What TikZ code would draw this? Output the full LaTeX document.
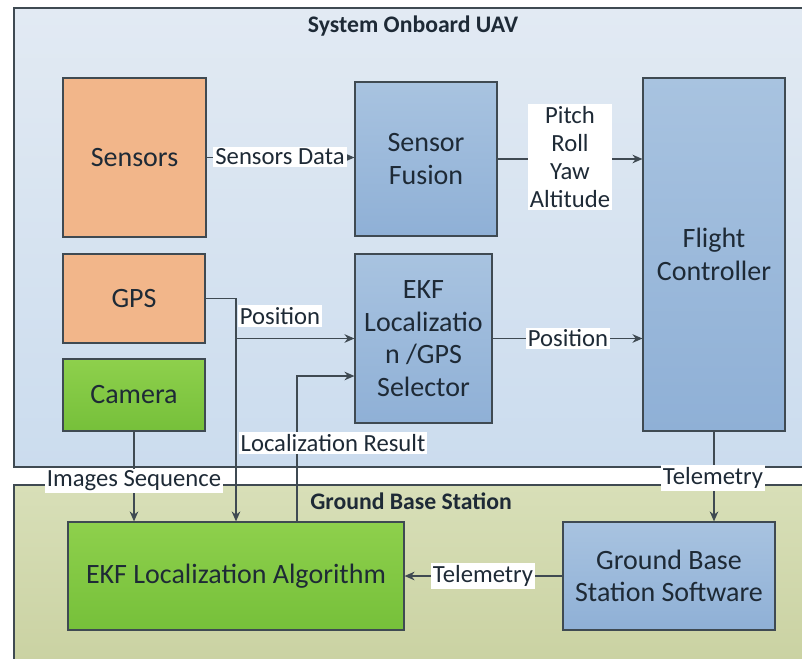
\documentclass[tikz,border=0pt]{standalone}
\usepackage{fontspec}
\setmainfont{Carlito}
\usetikzlibrary{arrows.meta}
\definecolor{uavtop}{HTML}{E2EAF3}
\definecolor{uavbot}{HTML}{CBDCEE}
\definecolor{gndtop}{HTML}{D8DFB8}
\definecolor{gndbot}{HTML}{C8D09F}
\definecolor{orng}{HTML}{F2B68A}
\definecolor{bluetop}{HTML}{A8C3E0}
\definecolor{bluebot}{HTML}{8FB0D6}
\definecolor{grntop}{HTML}{8ED04C}
\definecolor{grnbot}{HTML}{76C03A}
\definecolor{edge}{HTML}{3F4A52}
\definecolor{txt}{HTML}{1E2A36}
\begin{document}
\begin{tikzpicture}[x=0.75pt,y=-0.75pt,
  blk/.style={draw=edge, line width=0.9pt, align=center, inner sep=0pt,
    font=\fontsize{21}{24.5}\selectfont, text=txt},
  orangeblk/.style={blk, fill=orng},
  blueblk/.style={blk, top color=bluetop, bottom color=bluebot},
  greenblk/.style={blk, top color=grntop, bottom color=grnbot},
  lbl/.style={fill=white, inner sep=1.5pt, align=center,
    font=\fontsize{18.5}{21}\selectfont, text=txt},
  ttl/.style={font=\fontsize{17.8}{20}\selectfont\bfseries, text=txt},
  conn/.style={draw=edge, line width=0.9pt},
  arr/.style={conn, -{Stealth[length=7.5pt,width=6.5pt]}}
]
\useasboundingbox (0,0) rectangle (802,659);
\clip (0,0) rectangle (802,659);
\fill[white] (0,0) rectangle (802,659);
% regions
\path[draw=edge, line width=1pt, top color=uavtop, bottom color=uavbot]
  (14,8) rectangle (830,467);
\path[draw=edge, line width=1pt, top color=gndtop, bottom color=gndbot]
  (14,485) rectangle (830,690);
\node[ttl] (t1) at (413,26) {System Onboard UAV};
\node[ttl] (t2) at (411,501) {Ground Base Station};
% blocks
\node[orangeblk, minimum width=107.25pt, minimum height=119.25pt] (sensors) at (134.5,157.5) {Sensors};
\node[blueblk, minimum width=106.5pt, minimum height=115.5pt] (sf) at (426,159) {Sensor\\Fusion};
\node[blueblk, minimum width=106.5pt, minimum height=264.75pt] (fc) at (714,254.5) {Flight\\Controller};
\node[orangeblk, minimum width=106.5pt, minimum height=66.75pt] (gps) at (134,298.5) {GPS};
\node[greenblk, minimum width=106.5pt, minimum height=54pt] (camera) at (134,395) {Camera};
\node[blueblk, minimum width=102.75pt, minimum height=126.75pt] (ekfsel) at (423.5,338.5) {EKF\\Localizatio\\n /GPS\\Selector};
\node[greenblk, minimum width=252pt, minimum height=81pt] (algo) at (236,576) {EKF Localization Algorithm};
\node[blueblk, minimum width=159pt, minimum height=81pt] (gbs) at (669,576) {Ground Base\\Station Software};
% connectors
\draw[arr] (sensors.east) -- (sensors.east -| sf.west);
\draw[arr] (sf.east) -- (sf.east -| fc.west);
\coordinate (gj) at (236,298.5);
\coordinate (gb) at (236,338.5);
\draw[conn] (gps.east) -- (gj) -- (gb);
\draw[arr] (gb) -- (gb -| ekfsel.west);
\draw[arr] (gb) -- (gb |- algo.north);
\draw[arr] (ekfsel.east) -- (ekfsel.east -| fc.west);
\coordinate (lr) at (297,376);
\draw[arr] (lr |- algo.north) -- (lr) -- (lr -| ekfsel.west);
\draw[arr] (camera.south) -- (camera.south |- algo.north);
\draw[arr] (fc.south) -- (fc.south |- gbs.north);
\draw[arr] (gbs.west) -- (algo.east);
% labels
\node[lbl] (l1) at (280,157) {Sensors Data};
\node[lbl] (l2) at (570,157) {Pitch\\Roll\\Yaw\\Altitude};
\node[lbl] (l3) at (280,316) {Position};
\node[lbl] (l4) at (568,338.5) {Position};
\node[lbl] (l5) at (333,443) {Localization Result};
\node[lbl] (l6) at (134,481) {Images Sequence};
\node[lbl] (l7) at (713,478) {Telemetry};
\node[lbl] (l8) at (483,576) {Telemetry};
\end{tikzpicture}
\end{document}
